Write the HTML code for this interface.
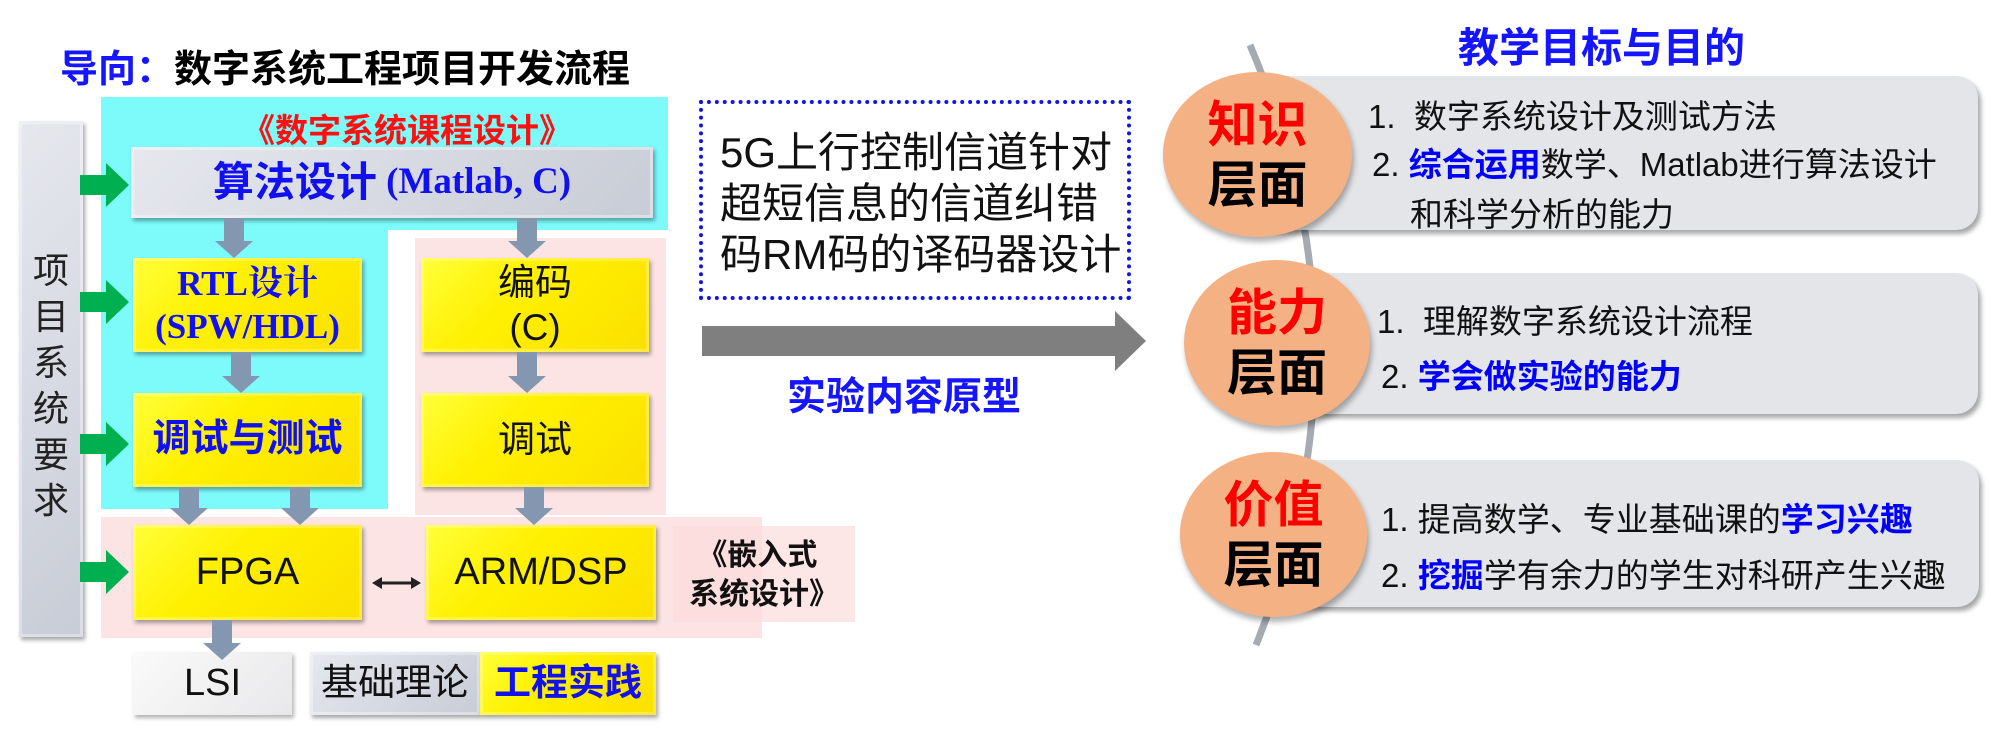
<!DOCTYPE html>
<html><head><meta charset="utf-8"><style>
*{margin:0;padding:0;box-sizing:border-box}
body{width:1991px;height:745px;background:#fff;position:relative;overflow:hidden;font-family:"Liberation Sans","Noto Sans CJK SC",sans-serif}
.a{position:absolute}
.c{display:flex;flex-direction:column;align-items:center;justify-content:center;text-align:center;line-height:1.15}
.y{background:linear-gradient(135deg,#ffff3a 0%,#fff000 40%,#fbe000 100%);box-shadow:inset 0 0 0 3px rgba(255,255,255,.25),2px 3px 4px rgba(0,0,0,.35)}
.g{background:linear-gradient(135deg,#e6e8ee,#c8ccd6);box-shadow:inset 0 0 0 3px rgba(255,255,255,.35),2px 3px 4px rgba(0,0,0,.35)}
.b{font-weight:bold;color:#1010f0}
.srf{font-family:"Liberation Serif","Noto Serif CJK SC",serif}
.panel{background:#e4e5e9;border-radius:22px;box-shadow:3px 4px 5px rgba(0,0,0,.35)}
.circ{background:#f4b183;border-radius:50%;box-shadow:2px 5px 6px rgba(0,0,0,.3);font-weight:bold;font-size:50px;line-height:1.2}
.pt{font-size:33px;color:#111;white-space:nowrap}
.bl{color:#0000ff;font-weight:bold}
</style></head><body>

<div class="a" style="left:60px;top:38px;font-size:38px;font-weight:bold;white-space:nowrap"><span style="color:#1515ff">导向：</span>数字系统工程项目开发流程</div>

<div class="a" style="left:101px;top:97px;width:567px;height:133px;background:#7dfbfb"></div>
<div class="a" style="left:101px;top:229px;width:287px;height:280px;background:#7dfbfb"></div>
<div class="a" style="left:415px;top:238px;width:251px;height:277px;background:#fde4e4"></div>
<div class="a" style="left:101px;top:517px;width:661px;height:121px;background:#fde4e4"></div>
<div class="a" style="left:673px;top:526px;width:182px;height:96px;background:rgba(252,220,220,.7)"></div>

<div class="a" style="left:242px;top:104px;font-size:33px;font-weight:bold;color:#ff1010;white-space:nowrap">《数字系统课程设计》</div>

<div class="a g c" style="left:19px;top:121px;width:64px;height:516px;font-size:36px;line-height:46px;color:#222;padding-top:14px">项<br>目<br>系<br>统<br>要<br>求</div>

<div class="a g c" style="left:131px;top:147px;width:522px;height:71px;flex-direction:row;white-space:nowrap"><span class="b" style="font-size:41px">算法设计</span><span class="b srf" style="font-size:37px">&nbsp;(Matlab, C)</span></div>

<div class="a y c b srf" style="left:133px;top:258px;width:229px;height:94px;font-size:35px;line-height:43px">RTL设计<br>(SPW/HDL)</div>
<div class="a y c b" style="left:133px;top:393px;width:229px;height:94px;font-size:38px">调试与测试</div>
<div class="a y c" style="left:421px;top:258px;width:228px;height:94px;font-size:37px;line-height:45px;color:#111">编码<br>(C)</div>
<div class="a y c" style="left:421px;top:393px;width:228px;height:94px;font-size:37px;color:#111">调试</div>
<div class="a y c" style="left:133px;top:525px;width:229px;height:95px;font-size:38px;color:#111">FPGA</div>
<div class="a y c" style="left:426px;top:525px;width:230px;height:95px;font-size:38px;color:#111">ARM/DSP</div>

<div class="a" style="left:689px;top:536px;font-size:30px;font-weight:bold;color:#111;line-height:39px;white-space:nowrap">&nbsp;《嵌入式<br>系统设计》</div>

<div class="a c" style="left:133px;top:652px;width:159px;height:63px;font-size:38px;color:#111;background:linear-gradient(135deg,#fafafa,#e8e8ea);box-shadow:2px 3px 4px rgba(0,0,0,.3)">LSI</div>
<div class="a g c" style="left:310px;top:652px;width:170px;height:63px;font-size:37px;color:#111">基础理论</div>
<div class="a y c b" style="left:480px;top:652px;width:176px;height:63px;font-size:37px">工程实践</div>

<div class="a" style="left:699px;top:100px;width:432px;height:200px;border:4px dotted #1414e6"></div>
<div class="a" style="left:720px;top:127px;font-size:42px;line-height:51px;color:#111;white-space:nowrap">5G上行控制信道针对<br>超短信息的信道纠错<br>码RM码的译码器设计</div>
<div class="a" style="left:787px;top:366px;font-size:39px;font-weight:bold;color:#1515ff;white-space:nowrap">实验内容原型</div>

<svg class="a" style="left:0;top:0" width="1991" height="745">
 <g fill="#00b050">
  <polygon points="80,175 106,175 106,163 129,185 106,207 106,195 80,195"/>
  <polygon points="80,292 106,292 106,280 129,302 106,324 106,312 80,312"/>
  <polygon points="80,434 106,434 106,422 129,444 106,466 106,454 80,454"/>
  <polygon points="80,562 106,562 106,550 129,572 106,594 106,582 80,582"/>
 </g>
 <g fill="#8497b0">
  <polygon points="224,218 244,218 244,241 253,241 234,258 215,241 224,241"/>
  <polygon points="517,218 537,218 537,241 546,241 527,258 508,241 517,241"/>
  <polygon points="231,352 251,352 251,376 260,376 241,393 222,376 231,376"/>
  <polygon points="517,352 537,352 537,376 546,376 527,393 508,376 517,376"/>
  <polygon points="179,487 199,487 199,508 208,508 189,525 170,508 179,508"/>
  <polygon points="290,487 310,487 310,508 319,508 300,525 281,508 290,508"/>
  <polygon points="524,487 544,487 544,508 553,508 534,525 515,508 524,508"/>
  <polygon points="212,620 232,620 232,643 241,643 222,660 203,643 212,643"/>
 </g>
 <line x1="380" y1="583" x2="413" y2="583" stroke="#222" stroke-width="3"/>
 <polygon points="372,583 382,577 382,589" fill="#222"/>
 <polygon points="421,583 411,577 411,589" fill="#222"/>
 <polygon points="702,326 1115,326 1115,311 1146,341 1115,371 1115,356 702,356" fill="#7f7f7f"/>
 <path d="M1250,45 Q1377,345 1256,645" fill="none" stroke="#a5abb0" stroke-width="7"/>
</svg>

<div class="a" style="left:1458px;top:14px;font-size:41px;font-weight:bold;color:#1515ff;white-space:nowrap">教学目标与目的</div>

<div class="a panel" style="left:1257px;top:76px;width:721px;height:154px"></div>
<div class="a panel" style="left:1277px;top:273px;width:701px;height:141px"></div>
<div class="a panel" style="left:1273px;top:460px;width:706px;height:147px"></div>

<div class="a circ c" style="left:1163px;top:72px;width:189px;height:165px"><span style="color:#ff0000">知识</span><span style="color:#000">层面</span></div>
<div class="a circ c" style="left:1184px;top:260px;width:186px;height:166px"><span style="color:#ff0000">能力</span><span style="color:#000">层面</span></div>
<div class="a circ c" style="left:1180px;top:452px;width:187px;height:165px"><span style="color:#ff0000">价值</span><span style="color:#000">层面</span></div>

<div class="a pt" style="left:1368px;top:90px">1.&nbsp; 数字系统设计及测试方法</div>
<div class="a pt" style="left:1372px;top:138px">2. <span class="bl">综合运用</span>数学、Matlab进行算法设计</div>
<div class="a pt" style="left:1410px;top:188px">和科学分析的能力</div>

<div class="a pt" style="left:1377px;top:295px">1.&nbsp; 理解数字系统设计流程</div>
<div class="a pt" style="left:1381px;top:350px">2. <span class="bl">学会做实验的能力</span></div>

<div class="a pt" style="left:1381px;top:493px">1. 提高数学、专业基础课的<span class="bl">学习兴趣</span></div>
<div class="a pt" style="left:1381px;top:549px">2. <span class="bl">挖掘</span>学有余力的学生对科研产生兴趣</div>

</body></html>
